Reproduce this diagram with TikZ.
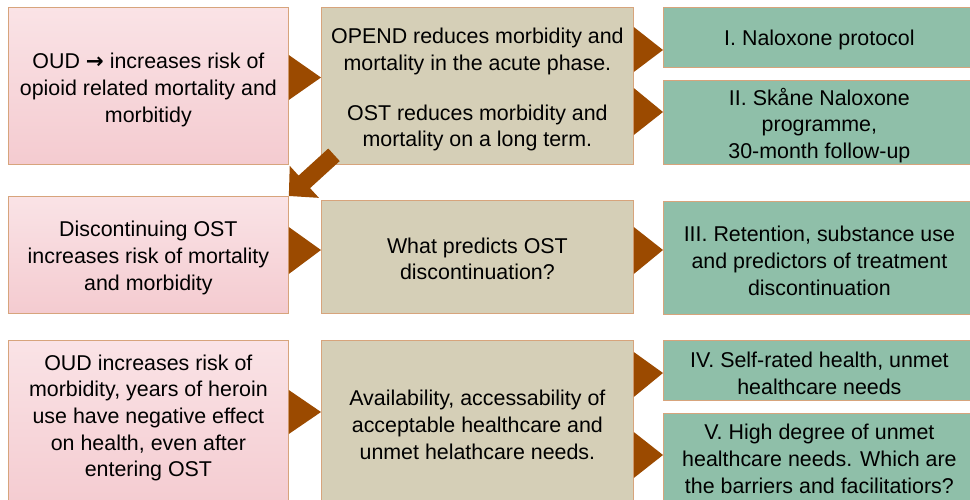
\documentclass[tikz,border=0pt]{standalone}
\usepackage{fontspec}
\setmainfont{Liberation Sans}
\newfontfamily\symfont{DejaVu Sans}
\usetikzlibrary{calc,arrows.meta}
\definecolor{pinktop}{HTML}{FAE3E6}
\definecolor{pinkbot}{HTML}{F4CBD0}
\definecolor{tanfill}{HTML}{D5CFB7}
\definecolor{greenfill}{HTML}{8FBFA9}
\definecolor{bordc}{HTML}{D7A47C}
\definecolor{chevc}{HTML}{9B4A00}
\newcommand\boxfont{\fontsize{21.4}{26.7}\selectfont}
\begin{document}
\begin{tikzpicture}[x=1pt,y=-1pt,
  box/.style={draw=bordc, line width=0.8pt, inner sep=0pt, anchor=north west},
  pinkbox/.style={box, top color=pinktop, bottom color=pinkbot},
  tanbox/.style={box, fill=tanfill},
  greenbox/.style={box, fill=greenfill},
  txt/.style={inner sep=0pt, align=center, font=\boxfont},
  chev/.style={fill=chevc}]
\clip (0,0) rectangle (970,499);
\fill[white] (0,0) rectangle (970,499);
% left column
\node[pinkbox, minimum width=280pt, minimum height=157pt] (P1) at (8,7) {};
\node[txt] (P1t) at ($(P1.center)+(0,4)$)
  {OUD {\symfont\bfseries →} increases risk of\\opioid related mortality and\\morbitidy};
\node[pinkbox, minimum width=280pt, minimum height=117pt] (P2) at (8,196) {};
\node[txt] (P2t) at ($(P2.center)+(0,3)$)
  {Discontinuing OST\\increases risk of mortality\\and morbidity};
\node[pinkbox, minimum width=280pt, minimum height=170pt] (P3) at (8,340) {};
\node[txt] (P3t) at ($(P3.north)+(0,78)$)
  {OUD increases risk of\\morbidity, years of heroin\\use have negative effect\\on health, even after\\entering OST};
% middle column
\node[tanbox, minimum width=312pt, minimum height=157pt] (M1) at (321,7) {};
\node[txt] (M1t) at ($(M1.center)+(0,4)$)
  {OPEND reduces morbidity and\\mortality in the acute phase.\\[23pt]OST reduces morbidity and\\mortality on a long term.};
\node[tanbox, minimum width=312pt, minimum height=113pt] (M2) at (321,200) {};
\node[txt] (M2t) at ($(M2.center)+(0,2)$)
  {What predicts OST\\discontinuation?};
\node[tanbox, minimum width=312pt, minimum height=170pt] (M3) at (321,340) {};
\node[txt] (M3t) at ($(M3.north)+(0,85)$)
  {Availability, accessability of\\acceptable healthcare and\\unmet helathcare needs.};
% right column
\node[greenbox, minimum width=312pt, minimum height=60pt] (G1) at (663,7) {};
\node[txt] (G1t) at ($(G1.center)+(0,3)$) {I. Naloxone protocol};
\node[greenbox, minimum width=312pt, minimum height=84pt] (G2) at (663,80) {};
\node[txt] (G2t) at ($(G2.center)+(0,3)$)
  {II. Skåne Naloxone\\programme,\\30-month follow-up};
\node[greenbox, minimum width=312pt, minimum height=113pt] (G3) at (663,201) {};
\node[txt] (G3t) at ($(G3.center)+(0,3)$)
  {III. Retention, substance use\\and predictors of treatment\\discontinuation};
\node[greenbox, minimum width=312pt, minimum height=60pt] (G4) at (663,340) {};
\node[txt] (G4t) at ($(G4.center)+(0,3)$)
  {IV. Self-rated health, unmet\\healthcare needs};
\node[greenbox, minimum width=312pt, minimum height=97pt] (G5) at (663,413) {};
\node[txt] (G5t) at ($(G5.north)+(0,46)$)
  {V. High degree of unmet\\healthcare needs. Which are\\the barriers and facilitatiors?};
% chevrons
\fill[chev] (P1.east |- 0,55) -- (M1.west |- 0,77.5) -- (P1.east |- 0,100) -- cycle;
\fill[chev] (M1.east |- 0,27) -- (G1.west |- 0,50) -- (M1.east |- 0,72) -- cycle;
\fill[chev] (M1.east |- 0,88) -- (G2.west |- 0,112) -- (M1.east |- 0,135) -- cycle;
\fill[chev] (P2.east |- 0,227) -- (M2.west |- 0,250) -- (P2.east |- 0,274) -- cycle;
\fill[chev] (M2.east |- 0,227) -- (G3.west |- 0,250) -- (M2.east |- 0,274) -- cycle;
\fill[chev] (P3.east |- 0,390) -- (M3.west |- 0,412) -- (P3.east |- 0,434) -- cycle;
\fill[chev] (M3.east |- 0,352) -- (G4.west |- 0,373) -- (M3.east |- 0,397) -- cycle;
\fill[chev] (M3.east |- 0,432) -- (G5.west |- 0,455) -- (M3.east |- 0,478) -- cycle;
% diagonal block arrow
\draw[chevc, line width=17pt, -{Triangle[width=42pt,length=21pt]}]
  ($(M1.south west)+(13,-10)$) -- (P2.north east);
\end{tikzpicture}
\end{document}
